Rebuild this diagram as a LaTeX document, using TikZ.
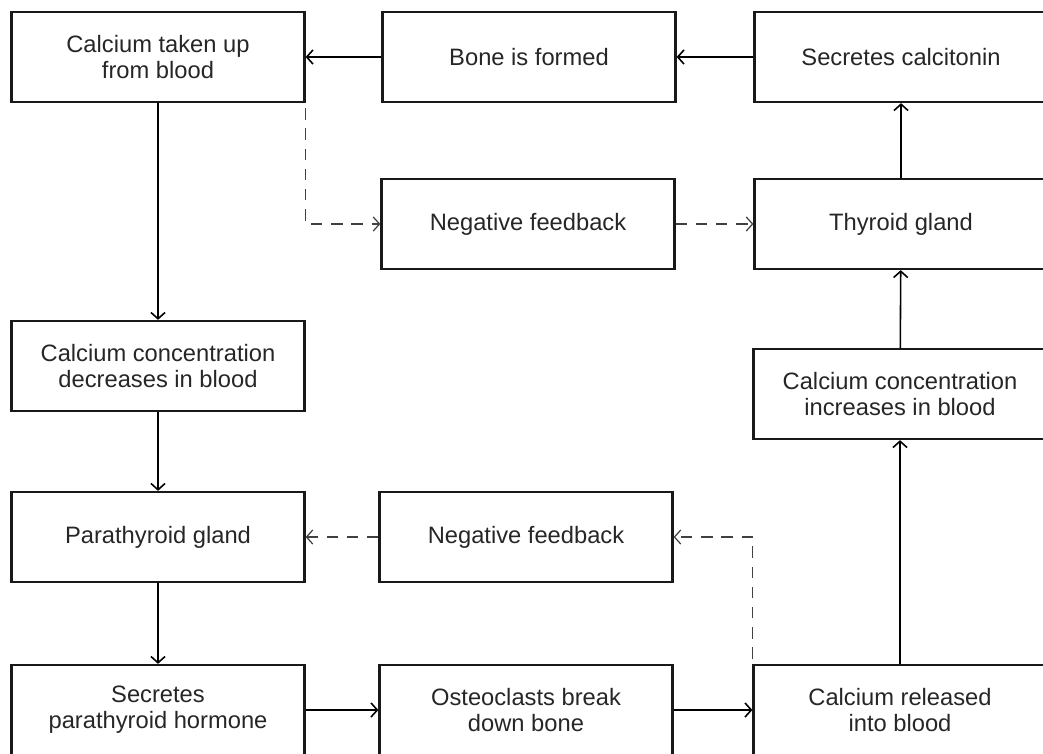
\documentclass[tikz,border=0pt]{standalone}
\usepackage{fontspec}
\setmainfont{Liberation Sans}
\usetikzlibrary{arrows,arrows.meta}

\begin{document}
\begin{tikzpicture}[x=0.02cm,y=-0.02cm,>={Straight Barb[length=3.6pt,width=8pt]}]
	\tikzset{blk/.style={draw=black!90,line width=1.3pt,minimum width=5.86cm,minimum height=1.8cm,inner sep=2pt,align=center,text=black!85,font=\fontsize{13.5}{14.7}\selectfont}}
	\tikzset{fb/.style={->,dashed,dash pattern=on 6.5pt off 5pt,line width=0.7pt,draw=black!75}}
	\useasboundingbox (0,0) rectangle (1043,753);
	\clip (0,0) rectangle (1043,753);
	\node[blk] (takeup) at (158,57) {Calcium taken up\\from blood};
	\node[blk] (formed) at (529,57) {Bone is formed};
	\node[blk] (calcitonin) at (901,57) {Secretes calcitonin};
	\node[blk] (nfa) at (528,224) {Negative feedback};
	\node[blk] (thyroid) at (901,224) {Thyroid gland};
	\node[blk] (decr) at (158,366) {Calcium concentration\\decreases in blood};
	\node[blk] (incr) at (900,394) {Calcium concentration\\increases in blood};
	\node[blk] (parathyroid) at (158,537) {Parathyroid gland};
	\node[blk] (nfb) at (526,537) {Negative feedback};
	\node[blk] (pth) at (158,710) {Secretes\\parathyroid hormone};
	\node[blk] (osteo) at (526,710) {Osteoclasts break\\down bone};
	\node[blk] (released) at (900,710) {Calcium released\\into blood};
	\path[->,line width=0.9pt]
		(calcitonin) edge (formed)
		(formed) edge (takeup)
		(takeup) edge (decr)
		(decr) edge (parathyroid)
		(parathyroid) edge (pth)
		(pth) edge (osteo)
		(osteo) edge (released)
		(released) edge (incr)
		(incr) edge (thyroid)
		(thyroid) edge (calcitonin);
	% feedback loops
	\draw[fb] ([shift={(0,5)}]takeup.south east) |- (nfa);
	\draw[fb] (nfa) -- (thyroid);
	\draw[fb] ([shift={(0,-5)}]released.north west) |- (nfb);
	\draw[fb] (nfb) -- (parathyroid);
\end{tikzpicture}
\end{document}
